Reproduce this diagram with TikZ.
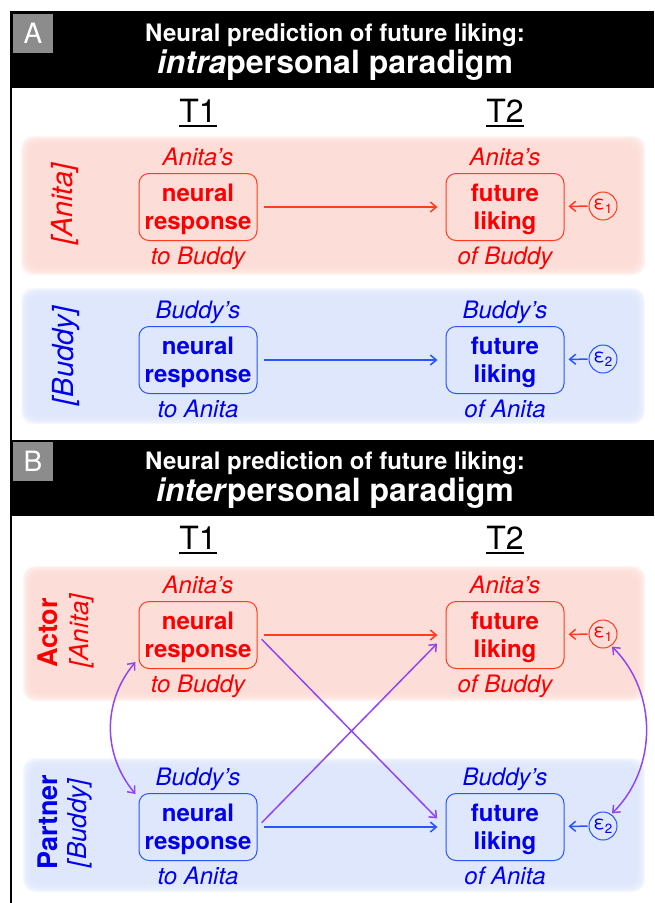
\documentclass[tikz,border=0pt]{standalone}
\usepackage{fontspec}
\setmainfont{TeX Gyre Heros}
\usepackage{tikz}
\usetikzlibrary{arrows.meta, positioning}
\definecolor{anitared}{RGB}{250,0,0}
\definecolor{anitaline}{RGB}{255,60,30}
\definecolor{anitaband}{RGB}{253,221,215}
\definecolor{buddyblue}{RGB}{0,0,235}
\definecolor{buddyline}{RGB}{40,85,255}
\definecolor{buddyband}{RGB}{222,231,251}
\definecolor{crosspurple}{RGB}{145,70,240}
\definecolor{labelgray}{RGB}{140,140,140}
\newcommand{\fsz}[2]{\fontsize{#1}{#2}\selectfont}
% soft-edged band: x1 y1 x2 y2 colour
\newcommand{\softband}[5]{%
  \foreach \k in {0,...,7} {
    \fill[#5, opacity=0.3, rounded corners=12pt] (#1+\k, #2+\k) rectangle (#3-\k, #4-\k);
  }
  \fill[#5, rounded corners=8pt] (#1+8, #2+8) rectangle (#3-8, #4-8);
}

\begin{document}
\begin{tikzpicture}[x=1pt, y=-1pt,
    box/.style={draw, rounded corners=10pt, minimum width=118pt, minimum height=67pt, inner sep=0pt, align=center, text depth=0pt, font=\bfseries\fsz{24}{28}, line width=1pt},
    redbox/.style={box, draw=anitaline, text=anitared},
    bluebox/.style={box, draw=buddyline, text=buddyblue},
    errc/.style={draw, circle, minimum size=28pt, inner sep=0pt, font=\fsz{19}{19}, line width=1pt},
    who/.style={font=\itshape\fsz{24}{28}, inner sep=0pt},
    side/.style={rotate=90, inner sep=0pt},
    tlabel/.style={font=\fsz{32}{36}, inner sep=0pt, anchor=base},
    link/.style={line width=1.5pt, -{Straight Barb[length=6pt,width=10pt]}, shorten <=6pt, shorten >=8pt},
    corr/.style={crosspurple, line width=1.5pt, {Straight Barb[length=6pt,width=10pt]}-{Straight Barb[length=6pt,width=10pt]}},
    head/.style={text=white, inner sep=0pt, anchor=base}
]
    \useasboundingbox (0,0) rectangle (654,903);

    % Frame
    \draw[line width=1.5pt] (11,903) -- (11,11.5) -- (654,11.5);

    %%% Panel A: intrapersonal
    \fill (11,12) rectangle (654,88);
    \node[fill=labelgray, minimum width=40pt, minimum height=39pt, text=white, font=\fsz{28}{28}, inner sep=0pt] (labA) at (33,33.5) {A};
    \node[head, font=\bfseries\fsz{24}{28}] (titA1) at (335,41) {Neural prediction of future liking:};
    \node[head, font=\bfseries\fsz{32}{36}] (titA2) at (335,73) {\textit{intra}personal paradigm};

    % T1 / T2
    \node[tlabel] (tA1) at (198,122) {T1};
    \node[tlabel] (tA2) at (505,122) {T2};
    \foreach \t in {tA1, tA2} {
        \draw[line width=1.3pt] ([yshift=-4pt]\t.base west) -- ([yshift=-4pt]\t.base east);
    }

    % Bands
    \softband{21}{136}{645}{275}{anitaband}
    \softband{21}{288}{645}{424}{buddyband}

    % Anita row
    \node[side, anitared, font=\itshape\fsz{29}{32}] (sideA1) at (65,204) {[Anita]};
    \node[redbox] (nrA1) at (198,207) {neural\\response};
    \node[redbox] (flA1) at (505,207) {future\\liking};
    \node[errc, anitaline, text=anitared] (e1A) at (603,206) {ε\textsubscript{1}};
    \node[who, anitared, above=8pt of nrA1.north, anchor=base] (ownA1) {Anita’s};
    \node[who, anitared, below=23pt of nrA1.south, anchor=base] (tgtA1) {to Buddy};
    \node[who, anitared, above=8pt of flA1.north, anchor=base] (ownA2) {Anita’s};
    \node[who, anitared, below=23pt of flA1.south, anchor=base] (tgtA2) {of Buddy};

    % Buddy row
    \node[side, buddyblue, font=\itshape\fsz{29}{32}] (sideA2) at (66,356) {[Buddy]};
    \node[bluebox] (nrA2) at (198,360) {neural\\response};
    \node[bluebox] (flA2) at (505,360) {future\\liking};
    \node[errc, buddyline, text=buddyblue] (e2A) at (603,359) {ε\textsubscript{2}};
    \node[who, buddyblue, above=8pt of nrA2.north, anchor=base] (ownA3) {Buddy’s};
    \node[who, buddyblue, below=23pt of nrA2.south, anchor=base] (tgtA3) {to Anita};
    \node[who, buddyblue, above=8pt of flA2.north, anchor=base] (ownA4) {Buddy’s};
    \node[who, buddyblue, below=23pt of flA2.south, anchor=base] (tgtA4) {of Anita};

    % Arrows
    \draw[link, anitaline] (nrA1.east) -- (flA1.west);
    \draw[link, buddyline] (nrA2.east) -- (flA2.west);
    \draw[link, anitaline, shorten <=1pt, shorten >=4pt] (e1A) -- (flA1);
    \draw[link, buddyline, shorten <=1pt, shorten >=4pt] (e2A) -- (flA2);

    %%% Panel B: interpersonal
    \fill (11,440) rectangle (654,516);
    \node[fill=labelgray, minimum width=40pt, minimum height=39pt, text=white, font=\fsz{28}{28}, inner sep=0pt] (labB) at (33,461.5) {B};
    \node[head, font=\bfseries\fsz{24}{28}] (titB1) at (335,469) {Neural prediction of future liking:};
    \node[head, font=\bfseries\fsz{32}{36}] (titB2) at (335,501) {\textit{inter}personal paradigm};

    % T1 / T2
    \node[tlabel] (tB1) at (198,549) {T1};
    \node[tlabel] (tB2) at (505,549) {T2};
    \foreach \t in {tB1, tB2} {
        \draw[line width=1.3pt] ([yshift=-4pt]\t.base west) -- ([yshift=-4pt]\t.base east);
    }

    % Bands
    \softband{23}{566}{645}{701}{anitaband}
    \softband{23}{758}{645}{892}{buddyband}

    % Actor row
    \node[side, anitared, font=\bfseries\fsz{27}{30}] (actB) at (48,633) {Actor};
    \node[side, anitared, font=\itshape\fsz{26}{30}] (sideB1) at (82,631) {[Anita]};
    \node[redbox] (nrB1) at (198,635) {neural\\response};
    \node[redbox] (flB1) at (505,635) {future\\liking};
    \node[errc, anitaline, text=anitared] (e1B) at (603,634) {ε\textsubscript{1}};
    \node[who, anitared, above=8pt of nrB1.north, anchor=base] (ownB1) {Anita’s};
    \node[who, anitared, below=23pt of nrB1.south, anchor=base] (tgtB1) {to Buddy};
    \node[who, anitared, above=8pt of flB1.north, anchor=base] (ownB2) {Anita’s};
    \node[who, anitared, below=23pt of flB1.south, anchor=base] (tgtB2) {of Buddy};

    % Partner row
    \node[side, buddyblue, font=\bfseries\fsz{27}{30}] (parB) at (48,822) {Partner};
    \node[side, buddyblue, font=\itshape\fsz{26}{30}] (sideB2) at (80,823) {[Buddy]};
    \node[bluebox] (nrB2) at (198,827) {neural\\response};
    \node[bluebox] (flB2) at (505,827) {future\\liking};
    \node[errc, buddyline, text=buddyblue] (e2B) at (603,826) {ε\textsubscript{2}};
    \node[who, buddyblue, above=8pt of nrB2.north, anchor=base] (ownB3) {Buddy’s};
    \node[who, buddyblue, below=23pt of nrB2.south, anchor=base] (tgtB3) {to Anita};
    \node[who, buddyblue, above=8pt of flB2.north, anchor=base] (ownB4) {Buddy’s};
    \node[who, buddyblue, below=23pt of flB2.south, anchor=base] (tgtB4) {of Anita};

    % Arrows
    \draw[link, anitaline] (nrB1.east) -- (flB1.west);
    \draw[link, buddyline] (nrB2.east) -- (flB2.west);
    \draw[link, crosspurple, shorten >=12pt] (nrB1.east) -- (flB2.west);
    \draw[link, crosspurple, shorten >=12pt] (nrB2.east) -- (flB1.west);
    \draw[link, anitaline, shorten <=1pt, shorten >=4pt] (e1B) -- (flB1);
    \draw[link, buddyline, shorten <=1pt, shorten >=4pt] (e2B) -- (flB2);

    % Correlations
    \draw[corr] ([xshift=-3pt,yshift=7pt]nrB1.south west) to[bend right=40] ([xshift=-3pt,yshift=-1pt]nrB2.north west);
    \draw[corr, shorten <=1pt, shorten >=1pt] (e1B.-55) to[bend left=45] (e2B.55);
\end{tikzpicture}
\end{document}
